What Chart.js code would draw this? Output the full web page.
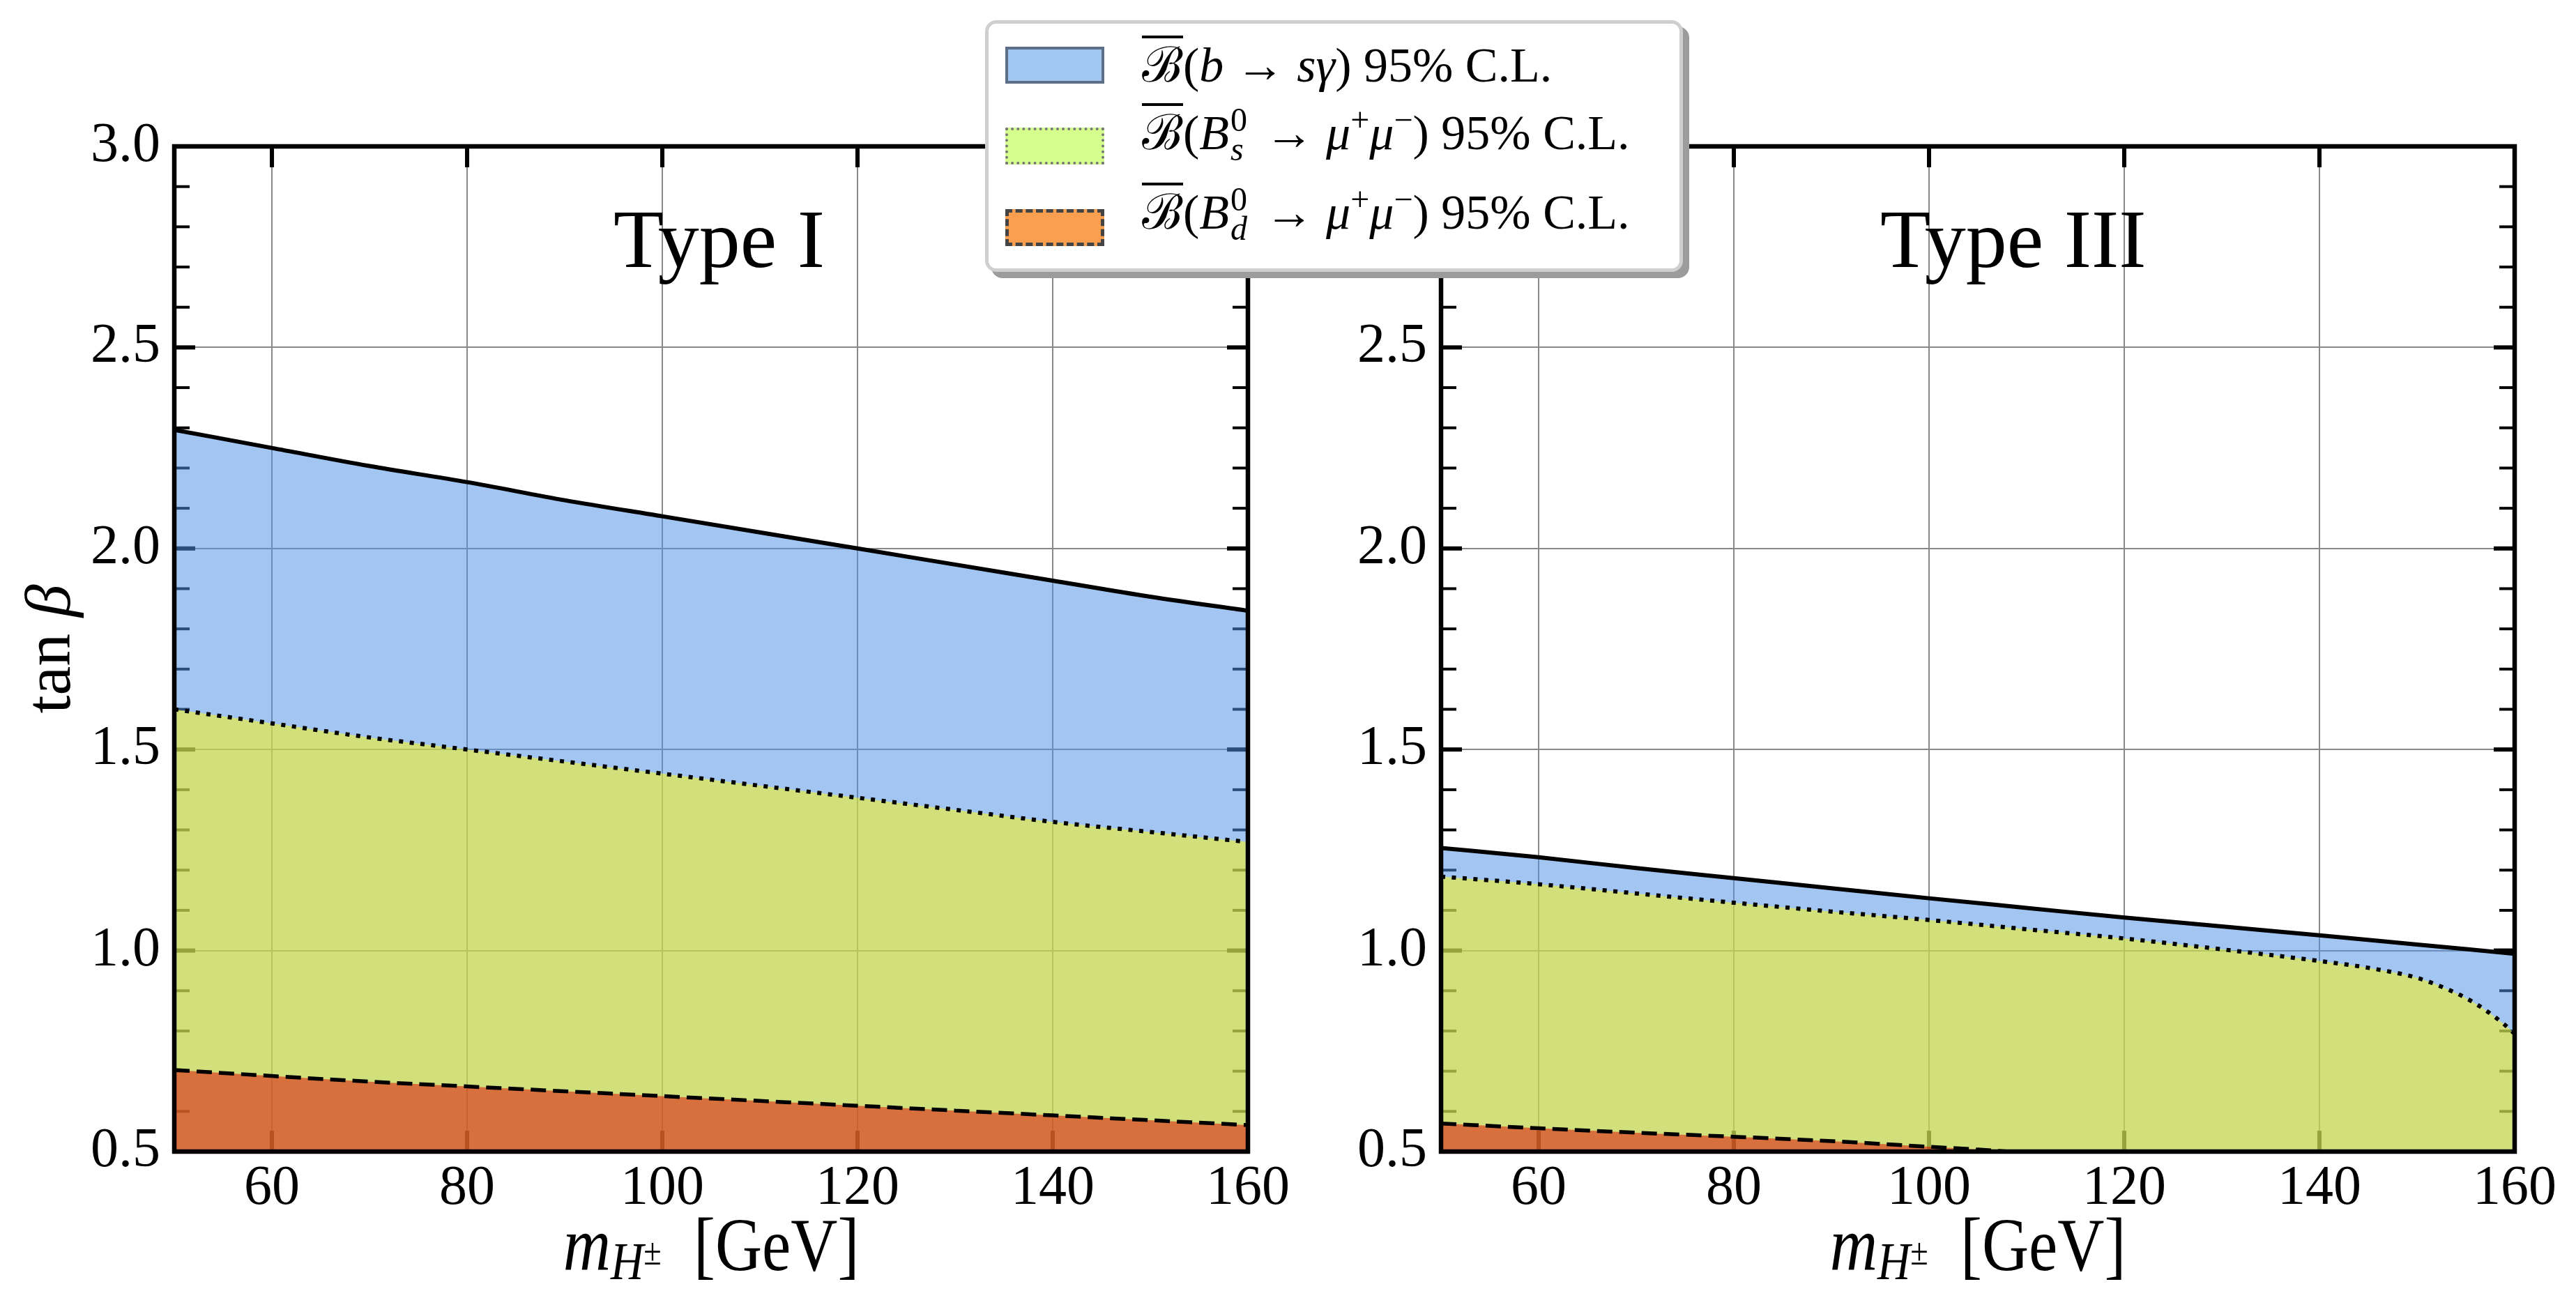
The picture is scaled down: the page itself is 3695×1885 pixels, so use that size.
<!DOCTYPE html>
<html>
<head>
<meta charset="utf-8">
<script src="https://cdn.jsdelivr.net/npm/chart.js"></script>
<style>
  body { margin: 0; background: #fff; }
  #wrap { position: relative; width: 3695px; height: 1885px; background: #fff; overflow: hidden; }
  canvas { position: absolute; top: 0; }
  #legend {
    position: absolute; left: 1413px; top: 29px; width: 1001px; height: 361px;
    box-sizing: border-box; border: 5px solid #cfcfcf; border-radius: 16px;
    background: #fff; box-shadow: 9px 9px 0 #9c9c9c; z-index: 5;
    font-family: 'Liberation Serif', serif; font-size: 70px; color: #000;
  }
  .patch { position: absolute; left: 24px; width: 142px; height: 53px; box-sizing: border-box; }
  .txt { position: absolute; left: 220px; line-height: 70px; white-space: nowrap; }
  .bb { text-decoration: overline; text-decoration-thickness: 4px; }
  .sc { font-size: 48px; position: relative; top: -26px; }
  .ss { display: inline-block; position: relative; width: 34px; height: 0; }
  .ss .up, .ss .dn { position: absolute; left: 2px; font-size: 48px; line-height: 48px; }
  .ss .up { top: -66px; }
  .ss .dn { top: -24px; }
</style>
</head>
<body>
<div id="wrap">
  <canvas id="typeI" width="1930" height="1885" style="left:0"></canvas>
  <canvas id="typeIII" width="1765" height="1885" style="left:1930px"></canvas>
  <div id="legend">
    <div class="patch" style="top:33px;background:#a1c6f0;border:4px solid #5d6f86"></div>
    <div class="txt" style="top:25px"><span class="bb">ℬ</span>(<i>b</i> → <i>sγ</i>) 95% C.L.</div>
    <div class="patch" style="top:149px;background:#d4ff8f;border:4px dotted #777"></div>
    <div class="txt" style="top:122px"><span class="bb">ℬ</span>(<i>B</i><span class="ss"><span class="up">0</span><span class="dn"><i>s</i></span></span> → <i>μ</i><span class="sc">+</span><i>μ</i><span class="sc">−</span>) 95% C.L.</div>
    <div class="patch" style="top:266px;background:#f99f4f;border:5px dashed #444"></div>
    <div class="txt" style="top:236px"><span class="bb">ℬ</span>(<i>B</i><span class="ss"><span class="up">0</span><span class="dn"><i>d</i></span></span> → <i>μ</i><span class="sc">+</span><i>μ</i><span class="sc">−</span>) 95% C.L.</div>
  </div>
</div>
<script>
// charged Higgs mass grid [GeV]
const massGrid = [50, 60, 70, 80, 90, 100, 110, 120, 130, 140, 150, 160]

// Type I limits on tan(beta)
const typeIBsGamma = [2.295, 2.25, 2.205, 2.165, 2.12, 2.08, 2.04, 2.0, 1.96, 1.92, 1.88, 1.845]
const typeIBsMuMu = [1.60, 1.565, 1.53, 1.50, 1.47, 1.44, 1.41, 1.38, 1.35, 1.32, 1.295, 1.27]
const typeIBdMuMu = [0.703, 0.688, 0.674, 0.662, 0.650, 0.638, 0.626, 0.614, 0.602, 0.590, 0.578, 0.566]

// Type III limits on tan(beta)
const typeIIIBsGamma = [1.255, 1.232, 1.205, 1.18, 1.155, 1.13, 1.106, 1.082, 1.06, 1.038, 1.015, 0.992]
const typeIIIMassBs = [50, 60, 70, 80, 90, 100, 110, 120, 130, 140, 145, 150, 153, 155, 157, 159, 160]
const typeIIIBsMuMu = [1.184, 1.165, 1.142, 1.119, 1.097, 1.076, 1.053, 1.030, 1.003, 0.974, 0.957, 0.932, 0.905, 0.882, 0.852, 0.815, 0.793]
const typeIIIMassBd = [50, 60, 70, 80, 90, 100, 105, 110]
const typeIIIBdMuMu = [0.570, 0.558, 0.547, 0.537, 0.526, 0.512, 0.505, 0.497]

// axis ticks
const xTickValues = [60, 80, 100, 120, 140, 160]
const yTickValues = [0.5, 1.0, 1.5, 2.0, 2.5, 3.0]

const serif = '"Liberation Serif", "DejaVu Serif", serif'
const toPoints = (xs, ys) => xs.map((x, i) => ({ x: x, y: ys[i] }))

// inward ticks under the fills, black frame on top, hand set labels
const framePlugin = {
  id: 'frame',
  beforeDatasetsDraw(chart) {
    const { ctx, chartArea } = chart
    const { left, right, top, bottom } = chartArea
    const xs = chart.scales.x, ys = chart.scales.y
    const seg = (x1, y1, x2, y2) => { ctx.beginPath(); ctx.moveTo(x1, y1); ctx.lineTo(x2, y2); ctx.stroke() }
    ctx.save()
    ctx.strokeStyle = '#000'
    ctx.lineWidth = 6
    yTickValues.forEach(v => {
      const py = ys.getPixelForValue(v)
      seg(left, py, left + 30, py)
      seg(right, py, right - 30, py)
    })
    xTickValues.forEach(v => {
      const px = xs.getPixelForValue(v)
      seg(px, bottom, px, bottom - 30)
      seg(px, top, px, top + 30)
    })
    ctx.lineWidth = 4
    for (let k = 6; k < 30; k++) {
      if (k % 5 === 0) continue
      const py = ys.getPixelForValue(k / 10)
      seg(left, py, left + 22, py)
      seg(right, py, right - 22, py)
    }
    ctx.restore()
  },
  afterDatasetsDraw(chart) {
    const { ctx, chartArea } = chart
    ctx.save()
    ctx.strokeStyle = '#000'
    ctx.lineWidth = 6.5
    ctx.strokeRect(chartArea.left, chartArea.top, chartArea.right - chartArea.left, chartArea.bottom - chartArea.top)
    ctx.restore()
  },
  afterDraw(chart, args, opts) {
    const { ctx, chartArea } = chart
    const xs = chart.scales.x, ys = chart.scales.y
    ctx.save()
    ctx.fillStyle = '#000'
    ctx.textBaseline = 'alphabetic'

    // panel title
    ctx.font = '118px ' + serif
    ctx.textAlign = 'left'
    ctx.fillText(opts.title, xs.getPixelForValue(95), ys.getPixelForValue(2.70))

    // x axis title  m_{H±} [GeV]
    const parts = [
      { t: 'm', f: 'italic 110px ' + serif, dy: 0 },
      { t: 'H', f: 'italic 76px ' + serif, dy: 13 },
      { t: '±', f: '54px ' + serif, dy: -8 },
      { t: '  [GeV]', f: '108px ' + serif, dy: 0 }
    ]
    const sx = 0.86
    let w = 0
    parts.forEach(p => { ctx.font = p.f; p.w = ctx.measureText(p.t).width; w += p.w })
    const cx = (chartArea.left + chartArea.right) / 2
    ctx.translate(cx - w * sx / 2, chartArea.bottom + 170)
    ctx.scale(sx, 1)
    let off = 0
    parts.forEach(p => { ctx.font = p.f; ctx.fillText(p.t, off, p.dy); off += p.w })
    ctx.restore()

    // y axis title  tan β
    if (opts.yTitle) {
      ctx.save()
      ctx.translate(100, (chartArea.top + chartArea.bottom) / 2)
      ctx.rotate(-Math.PI / 2)
      ctx.fillStyle = '#000'
      const a = 'tan ', b = 'β'
      ctx.font = '94px ' + serif
      const wa = ctx.measureText(a).width
      ctx.font = 'italic 94px ' + serif
      const wb = ctx.measureText(b).width
      const x0 = -(wa + wb) / 2
      ctx.font = '94px ' + serif
      ctx.fillText(a, x0, 0)
      ctx.font = 'italic 94px ' + serif
      ctx.fillText(b, x0 + wa, 0)
      ctx.restore()
    }
  }
}

function makePanel(id, cfg) {
  const tickFont = { family: serif, size: 80 }
  const line = (data, color, dash, width) => ({
    data: data,
    borderColor: '#000',
    borderWidth: width,
    borderDash: dash,
    backgroundColor: color,
    fill: 'start',
    pointRadius: 0,
    tension: 0.3,
    cubicInterpolationMode: 'monotone'
  })
  return new Chart(document.getElementById(id), {
    type: 'line',
    data: {
      datasets: [
        line(cfg.bd, 'rgba(224, 0, 0, 0.5)', [22, 10], 5.5),
        line(cfg.bs, 'rgba(255, 252, 5, 0.5)', [6, 9.5], 6),
        line(cfg.bsg, 'rgba(79, 146, 229, 0.53)', [], 6)
      ]
    },
    options: {
      responsive: false,
      devicePixelRatio: 1,
      animation: false,
      layout: { padding: { top: 210, right: cfg.rightPad, left: 0, bottom: 0 } },
      plugins: {
        legend: { display: false },
        tooltip: { enabled: false },
        frame: { title: cfg.title, yTitle: cfg.yTitle }
      },
      scales: {
        x: {
          type: 'linear', min: 50, max: 160,
          afterBuildTicks: s => { s.ticks = xTickValues.map(v => ({ value: v })) },
          afterFit: s => { s.height = 233 },
          grid: { color: '#888', lineWidth: 2, drawTicks: false },
          border: { display: false },
          ticks: { font: tickFont, color: '#000', padding: 6, maxRotation: 0, autoSkip: false, callback: v => String(v) }
        },
        y: {
          type: 'linear', min: 0.5, max: 3.0,
          afterBuildTicks: s => { s.ticks = yTickValues.map(v => ({ value: v })) },
          afterFit: s => { s.width = cfg.yWidth },
          grid: { color: '#888', lineWidth: 2, drawTicks: false },
          border: { display: false },
          ticks: { font: tickFont, color: '#000', padding: 20, autoSkip: false, callback: v => v.toFixed(1) }
        }
      }
    },
    plugins: [framePlugin]
  })
}

makePanel('typeI', {
  title: 'Type I', yTitle: true, yWidth: 250, rightPad: 140,
  bsg: toPoints(massGrid, typeIBsGamma),
  bs: toPoints(massGrid, typeIBsMuMu),
  bd: toPoints(massGrid, typeIBdMuMu)
})
makePanel('typeIII', {
  title: 'Type III', yTitle: false, yWidth: 137, rightPad: 88,
  bsg: toPoints(massGrid, typeIIIBsGamma),
  bs: toPoints(typeIIIMassBs, typeIIIBsMuMu),
  bd: toPoints(typeIIIMassBd, typeIIIBdMuMu)
})
</script>
</body>
</html>
